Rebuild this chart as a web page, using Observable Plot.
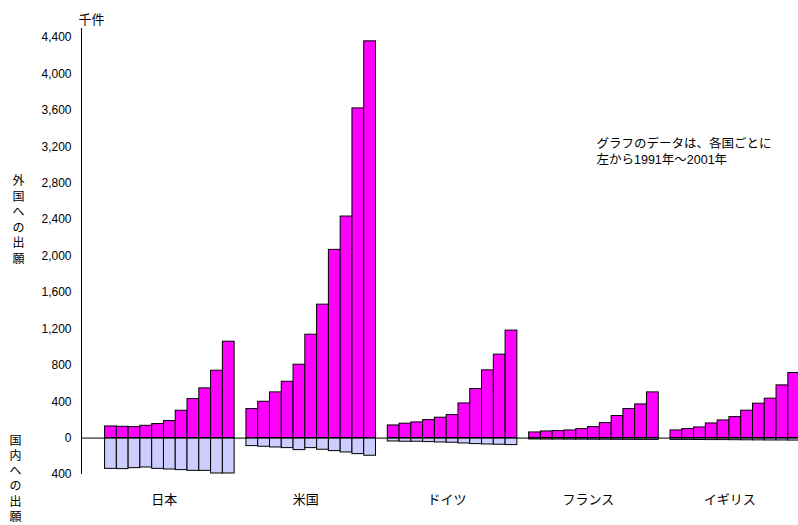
<!DOCTYPE html>
<html>
<head>
<meta charset="utf-8">
<script src="https://cdn.jsdelivr.net/npm/d3@7"></script>
<script src="https://cdn.jsdelivr.net/npm/@observablehq/plot@0.6"></script>
<style>
  html, body { margin: 0; padding: 0; background: white; }
</style>
</head>
<body>
<div id="chart"></div>
<script>
// 千件 (thousand applications)
const countries = ["日本", "米国", "ドイツ", "フランス", "イギリス"];
const years = [1991, 1992, 1993, 1994, 1995, 1996, 1997, 1998, 1999, 2000, 2001];

// 外国への出願 (applications to foreign countries)
const foreignJapan   = [128, 124, 121, 135, 154, 187, 300, 429, 546, 740, 1059];
const foreignUSA     = [319, 399, 502, 619, 806, 1136, 1466, 2068, 2434, 3622, 4359];
const foreignGermany = [139, 158, 172, 198, 224, 253, 381, 539, 744, 917, 1181];
const foreignFrance  = [62, 73, 77, 84, 99, 121, 165, 242, 319, 370, 502];
const foreignUK      = [84, 99, 117, 161, 194, 231, 301, 378, 433, 579, 715];

// 国内への出願 (domestic applications)
const domesticJapan   = [338, 341, 330, 323, 338, 345, 352, 360, 360, 389, 389];
const domesticUSA     = [88, 95, 103, 110, 132, 110, 128, 143, 158, 176, 194];
const domesticGermany = [37, 40, 40, 44, 48, 51, 59, 66, 70, 73, 77];
const domesticFrance  = [15, 16, 16, 17, 17, 18, 18, 19, 19, 20, 20];
const domesticUK      = [20, 20, 21, 22, 22, 23, 24, 25, 26, 26, 27];

const yTicks = [-400, 0, 400, 800, 1200, 1600, 2000, 2400, 2800, 3200, 3600, 4000, 4400];

const foreignSeries = [foreignJapan, foreignUSA, foreignGermany, foreignFrance, foreignUK];
const domesticSeries = [domesticJapan, domesticUSA, domesticGermany, domesticFrance, domesticUK];

// layout in "slots": 2 leading empty slots, 11 bars per country, 1 gap slot between countries
const lead = 2, perGroup = years.length + 1;
const slotCount = lead + countries.length * perGroup - 1;

const rows = [];
countries.forEach((c, g) => {
  years.forEach((yr, i) => {
    const slot = lead + g * perGroup + i;
    rows.push({country: c, year: yr, slot, value: foreignSeries[g][i], kind: "foreign"});
    rows.push({country: c, year: yr, slot, value: -domesticSeries[g][i], kind: "domestic"});
  });
});
const labels = countries.map((c, g) => ({country: c, center: lead + g * perGroup + years.length / 2}));

const font = "'Liberation Sans', Arial, 'Noto Sans CJK JP', sans-serif";

const chart = Plot.plot({
  width: 798,
  height: 525,
  marginLeft: 81,
  marginRight: 0,
  marginTop: 28,
  marginBottom: 51,
  style: {fontFamily: font, fontSize: "12px", color: "black", background: "white", overflow: "visible"},
  x: {type: "linear", domain: [0, slotCount], range: [81, 799.6], axis: null},
  y: {domain: [-400, 4500], axis: null},
  marks: [
    Plot.rectY(rows, {
      x1: "slot",
      x2: d => d.slot + 1,
      y: "value",
      fill: d => d.kind === "foreign" ? "#ff00ff" : "#ccccff",
      stroke: "black",
      strokeWidth: 1,
      inset: 0
    }),
    Plot.ruleY([0], {x1: 0, x2: slotCount, stroke: "black", strokeWidth: 1}),
    Plot.ruleX([0], {y1: -400, y2: 4500, stroke: "black", strokeWidth: 1}),
    Plot.axisY({
      ticks: yTicks,
      tickSize: 0,
      tickPadding: 10,
      tickFormat: d => d3.format(",")(Math.abs(d)),
      fontSize: 12,
      label: null
    }),
    Plot.text(labels, {
      x: "center",
      text: "country",
      frameAnchor: "bottom",
      dy: 25,
      dx: -5.5,
      fontSize: 13,
      lineAnchor: "middle"
    }),
    Plot.text(["千件"], {
      frameAnchor: "top-left",
      textAnchor: "start",
      lineAnchor: "middle",
      dx: -3,
      dy: -9,
      fontSize: 13
    }),
    Plot.text(["外\n国\nへ\nの\n出\n願"], {
      frameAnchor: "top-left",
      textAnchor: "middle",
      lineAnchor: "middle",
      lineHeight: 1.29,
      dx: -63,
      dy: 190.7,
      fontSize: 12
    }),
    Plot.text(["国\n内\nへ\nの\n出\n願"], {
      frameAnchor: "top-left",
      textAnchor: "middle",
      lineAnchor: "middle",
      lineHeight: 1.27,
      dx: -66,
      dy: 449.5,
      fontSize: 12
    }),
    Plot.text(["グラフのデータは、各国ごとに\n左から1991年～2001年"], {
      frameAnchor: "top-left",
      textAnchor: "start",
      lineAnchor: "middle",
      lineHeight: 1.25,
      dx: 515,
      dy: 122.5,
      fontSize: 12.5
    })
  ]
});
document.getElementById("chart").append(chart);
</script>
</body>
</html>
